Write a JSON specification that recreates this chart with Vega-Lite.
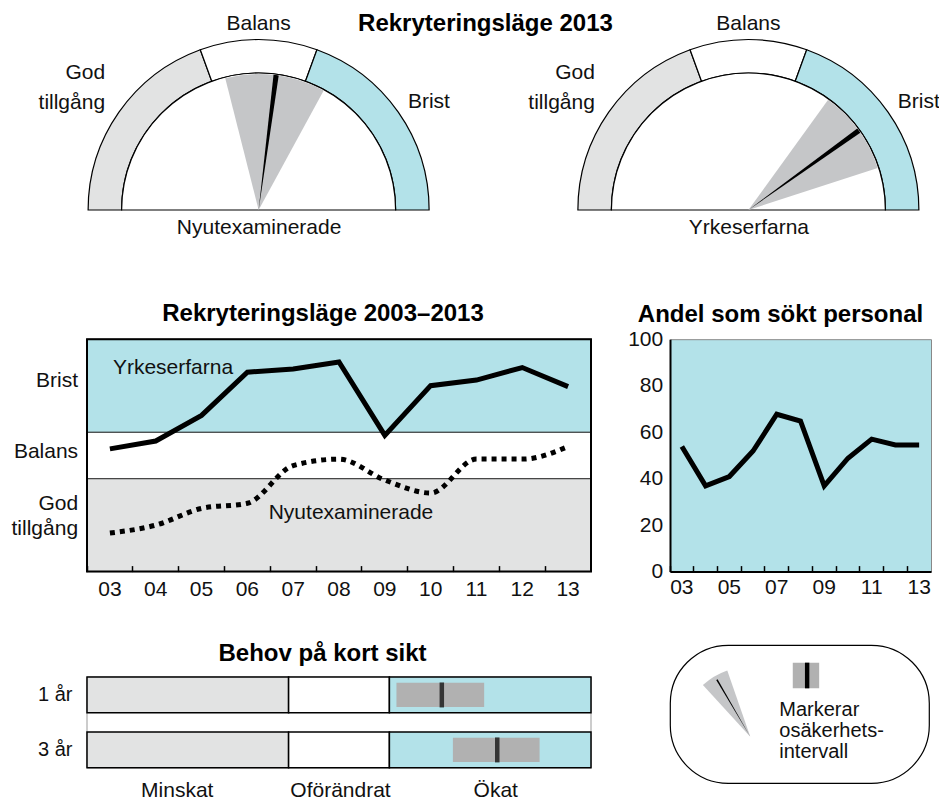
{
  "$schema": "https://vega.github.io/schema/vega-lite/v6.json",
  "background": "white",
  "padding": {"left": 11, "top": 11, "right": 0, "bottom": 0},
  "config": {
    "font": "Liberation Sans",
    "view": {"stroke": null},
    "axis": {"labelFont": "Liberation Sans", "labelFontSize": 21, "labelColor": "#111", "grid": false, "labelOverlap": false, "labelFlush": false, "labelAngle": 0},
    "title": {"font": "Liberation Sans", "fontSize": 24, "fontWeight": "bold", "color": "#000", "anchor": "middle", "frame": "group", "baseline": "alphabetic"},
    "text": {"font": "Liberation Sans", "fontSize": 21, "color": "#111"}
  },
  "datasets": {
    "gauges": [
      {"gauge": "Nyutexaminerade", "value": 7.4, "low": -14.2, "high": 28.6},
      {"gauge": "Yrkeserfarna", "value": 54.3, "low": 35.9, "high": 72}
    ],
    "segments": [
      {"gauge": "Nyutexaminerade", "cat": "God tillgång", "start": -90, "end": -20},
      {"gauge": "Nyutexaminerade", "cat": "Balans", "start": -20, "end": 20},
      {"gauge": "Nyutexaminerade", "cat": "Brist", "start": 20, "end": 90},
      {"gauge": "Yrkeserfarna", "cat": "God tillgång", "start": -90, "end": -20},
      {"gauge": "Yrkeserfarna", "cat": "Balans", "start": -20, "end": 20},
      {"gauge": "Yrkeserfarna", "cat": "Brist", "start": 20, "end": 90}
    ],
    "bands": [
      {"cat": "God tillgång", "lo": 0, "hi": 2},
      {"cat": "Balans", "lo": 2, "hi": 3},
      {"cat": "Brist", "lo": 3, "hi": 5}
    ],
    "rekrytering": [
      {"year": "03", "grupp": "Yrkeserfarna", "value": 2.64},
      {"year": "04", "grupp": "Yrkeserfarna", "value": 2.81},
      {"year": "05", "grupp": "Yrkeserfarna", "value": 3.36},
      {"year": "06", "grupp": "Yrkeserfarna", "value": 4.29},
      {"year": "07", "grupp": "Yrkeserfarna", "value": 4.36},
      {"year": "08", "grupp": "Yrkeserfarna", "value": 4.51},
      {"year": "09", "grupp": "Yrkeserfarna", "value": 2.93},
      {"year": "10", "grupp": "Yrkeserfarna", "value": 4.00},
      {"year": "11", "grupp": "Yrkeserfarna", "value": 4.12},
      {"year": "12", "grupp": "Yrkeserfarna", "value": 4.39},
      {"year": "13", "grupp": "Yrkeserfarna", "value": 3.98},
      {"year": "03", "grupp": "Nyutexaminerade", "value": 0.83},
      {"year": "04", "grupp": "Nyutexaminerade", "value": 1.00},
      {"year": "05", "grupp": "Nyutexaminerade", "value": 1.36},
      {"year": "06", "grupp": "Nyutexaminerade", "value": 1.47},
      {"year": "07", "grupp": "Nyutexaminerade", "value": 2.28},
      {"year": "08", "grupp": "Nyutexaminerade", "value": 2.42},
      {"year": "09", "grupp": "Nyutexaminerade", "value": 1.97},
      {"year": "10", "grupp": "Nyutexaminerade", "value": 1.69},
      {"year": "11", "grupp": "Nyutexaminerade", "value": 2.42},
      {"year": "12", "grupp": "Nyutexaminerade", "value": 2.42},
      {"year": "13", "grupp": "Nyutexaminerade", "value": 2.69}
    ],
    "andel": [
      {"year": "03", "value": 53.8},
      {"year": "04", "value": 36.9},
      {"year": "05", "value": 40.9},
      {"year": "06", "value": 51.9},
      {"year": "07", "value": 67.7},
      {"year": "08", "value": 64.8},
      {"year": "09", "value": 36.9},
      {"year": "10", "value": 48.8},
      {"year": "11", "value": 57.0},
      {"year": "12", "value": 54.5},
      {"year": "13", "value": 54.5}
    ],
    "behovSeg": [
      {"row": "1 år", "cat": "Minskat", "start": 0, "end": 2},
      {"row": "1 år", "cat": "Oförändrat", "start": 2, "end": 3},
      {"row": "1 år", "cat": "Ökat", "start": 3, "end": 5},
      {"row": "3 år", "cat": "Minskat", "start": 0, "end": 2},
      {"row": "3 år", "cat": "Oförändrat", "start": 2, "end": 3},
      {"row": "3 år", "cat": "Ökat", "start": 3, "end": 5}
    ],
    "behov": [
      {"row": "1 år", "lo": 3.07, "hi": 3.94, "mid": 3.52},
      {"row": "3 år", "lo": 3.63, "hi": 4.49, "mid": 4.07}
    ]
  },
  "spacing": 63.2,
  "vconcat": [
    {
      "width": 833,
      "height": 171,
      "title": {"text": "Rekryteringsläge 2013", "dx": -18, "offset": -22.5},
      "layer": [
        {
          "data": {"name": "segments"},
          "mark": {"type": "arc", "radius": 170.5, "radius2": 137, "stroke": "#000", "strokeWidth": 1.2, "y": "height"},
          "encoding": {
            "x": {"field": "gauge", "type": "nominal", "scale": {"type": "point", "domain": ["Nyutexaminerade", "Yrkeserfarna"], "padding": 0.3504}, "axis": {"title": null, "domain": false, "ticks": false, "labelPadding": 6.3, "labelBaseline": "top"}},
            "theta": {"field": "start", "type": "quantitative", "scale": {"domain": [-90, 90], "range": [-1.5707963, 1.5707963], "zero": false, "nice": false}},
            "theta2": {"field": "end"},
            "color": {"field": "cat", "type": "nominal", "legend": null, "scale": {"domain": ["God tillgång", "Balans", "Brist", "Minskat", "Oförändrat", "Ökat"], "range": ["#e2e3e3", "#ffffff", "#b3e2e9", "#e2e3e3", "#ffffff", "#b3e2e9"]}}
          }
        },
        {
          "data": {"name": "gauges"},
          "mark": {"type": "arc", "radius": 137, "fill": "#ffffff", "stroke": "#000", "strokeWidth": 1.2, "y": "height"},
          "encoding": {
            "x": {"field": "gauge", "type": "nominal"},
            "theta": {"datum": -90, "type": "quantitative", "scale": {"domain": [-90, 90], "range": [-1.5707963, 1.5707963], "zero": false, "nice": false}},
            "theta2": {"datum": 90}
          }
        },
        {
          "data": {"name": "gauges"},
          "mark": {"type": "arc", "radius": 136, "fill": "#c5c6c8", "y": "height"},
          "encoding": {
            "x": {"field": "gauge", "type": "nominal"},
            "theta": {"field": "low", "type": "quantitative", "scale": {"domain": [-90, 90], "range": [-1.5707963, 1.5707963], "zero": false, "nice": false}},
            "theta2": {"field": "high"}
          }
        },
        {
          "data": {"name": "gauges"},
          "mark": {"type": "arc", "radius": 136, "fill": "#000", "y": "height", "thetaOffset": -0.0192, "theta2Offset": 0.0192},
          "encoding": {
            "x": {"field": "gauge", "type": "nominal"},
            "theta": {"field": "value", "type": "quantitative", "scale": {"domain": [-90, 90], "range": [-1.5707963, 1.5707963], "zero": false, "nice": false}},
            "theta2": {"field": "value"}
          }
        },
        {
          "data": {"name": "gauges"},
          "mark": {"type": "text", "text": "Balans", "radius": 185.8, "align": "center", "baseline": "middle", "y": "height"},
          "encoding": {
            "x": {"field": "gauge", "type": "nominal"},
            "theta": {"datum": 0, "type": "quantitative"}
          }
        },
        {
          "data": {"name": "gauges"},
          "mark": {"type": "text", "text": ["God", "tillgång"], "radius": 187.4, "align": "right", "baseline": "top", "dy": -41, "lineHeight": 30, "y": "height"},
          "encoding": {
            "x": {"field": "gauge", "type": "nominal"},
            "theta": {"datum": -55, "type": "quantitative"}
          }
        },
        {
          "data": {"name": "gauges"},
          "mark": {"type": "text", "text": "Brist", "radius": 182.3, "align": "left", "baseline": "middle", "dy": -3, "y": "height"},
          "encoding": {
            "x": {"field": "gauge", "type": "nominal"},
            "theta": {"datum": 55, "type": "quantitative"}
          }
        }
      ]
    },
    {
      "spacing": 35,
      "hconcat": [
        {
          "spacing": 40.9,
          "vconcat": [
            {
              "width": 504,
              "height": 232.4,
              "title": {"text": "Rekryteringsläge 2003–2013", "dx": -16, "offset": 12.6},
              "layer": [
                {
                  "data": {"name": "bands"},
                  "mark": {"type": "rect", "stroke": "#333", "strokeWidth": 1},
                  "encoding": {
                    "y": {"field": "lo", "type": "quantitative", "scale": {"domain": [0, 5], "nice": false}, "axis": {"title": null, "values": [4.11, 2.59, 1.47], "labelExpr": "datum.value > 3 ? 'Brist' : datum.value > 2 ? 'Balans' : ['God', 'tillgång']", "ticks": false, "domain": false, "labelPadding": 9.4, "labelLineHeight": 25}},
                    "y2": {"field": "hi"},
                    "color": {"field": "cat", "type": "nominal", "legend": null, "scale": {"domain": ["God tillgång", "Balans", "Brist", "Minskat", "Oförändrat", "Ökat"], "range": ["#e2e3e3", "#ffffff", "#b3e2e9", "#e2e3e3", "#ffffff", "#b3e2e9"]}}
                  }
                },
                {
                  "data": {"name": "rekrytering"},
                  "transform": [{"filter": "datum.grupp === 'Yrkeserfarna'"}],
                  "mark": {"type": "line", "color": "#000", "strokeWidth": 5},
                  "encoding": {
                    "x": {"field": "year", "type": "ordinal", "bandPosition": 0.5, "scale": {"type": "band", "paddingInner": 0, "paddingOuter": 0}, "axis": {"title": null, "bandPosition": 0, "ticks": true, "tickSize": -6, "tickColor": "#000", "tickWidth": 1.5, "domain": false, "labelPadding": 12.7, "zindex": 1}},
                    "y": {"field": "value", "type": "quantitative"}
                  }
                },
                {
                  "data": {"name": "rekrytering"},
                  "transform": [{"filter": "datum.grupp === 'Nyutexaminerade'"}],
                  "mark": {"type": "line", "color": "#000", "strokeWidth": 5, "strokeDash": [5, 5], "interpolate": "monotone"},
                  "encoding": {
                    "x": {"field": "year", "type": "ordinal", "bandPosition": 0.5},
                    "y": {"field": "value", "type": "quantitative"}
                  }
                },
                {
                  "data": {"values": [{}]},
                  "mark": {"type": "rect", "fill": "transparent", "stroke": "#000", "strokeWidth": 2},
                  "encoding": {
                    "y": {"datum": 0, "type": "quantitative"},
                    "y2": {"datum": 5}
                  }
                },
                {
                  "data": {"values": [{"label": "Yrkeserfarna", "year": "03", "value": 4.39}]},
                  "mark": {"type": "text", "align": "left", "baseline": "middle", "dx": 3},
                  "encoding": {
                    "x": {"field": "year", "type": "ordinal", "bandPosition": 0.5},
                    "y": {"field": "value", "type": "quantitative"},
                    "text": {"field": "label"}
                  }
                },
                {
                  "data": {"values": [{"label": "Nyutexaminerade", "year": "08", "value": 1.26}]},
                  "mark": {"type": "text", "align": "center", "baseline": "middle", "dx": 12},
                  "encoding": {
                    "x": {"field": "year", "type": "ordinal", "bandPosition": 0.5},
                    "y": {"field": "value", "type": "quantitative"},
                    "text": {"field": "label"}
                  }
                }
              ]
            },
            {
              "width": 504,
              "height": 90.7,
              "title": {"text": "Behov på kort sikt", "dx": -16.5, "offset": 10.8},
              "layer": [
                {
                  "data": {"values": [{}]},
                  "mark": {"type": "rect", "fill": "#ffffff", "stroke": "#999", "strokeWidth": 1},
                  "encoding": {
                    "x": {"datum": 0, "type": "quantitative", "scale": {"domain": [0, 5], "nice": false, "zero": false}, "axis": {"title": null, "values": [0.89, 2.51, 4.05], "labelExpr": "datum.value < 2 ? 'Minskat' : datum.value < 3 ? 'Oförändrat' : 'Ökat'", "ticks": false, "domain": false, "labelPadding": 11.5, "labelBaseline": "top"}},
                    "x2": {"datum": 5}
                  }
                },
                {
                  "data": {"name": "behovSeg"},
                  "mark": {"type": "rect", "stroke": "#000", "strokeWidth": 1.5},
                  "encoding": {
                    "x": {"field": "start", "type": "quantitative"},
                    "x2": {"field": "end"},
                    "y": {"field": "row", "type": "nominal", "scale": {"type": "band", "paddingInner": 0.35, "paddingOuter": 0}, "axis": {"title": null, "ticks": false, "domain": false, "labelPadding": 15, "labelFontSize": 20}},
                    "color": {"field": "cat", "type": "nominal", "legend": null, "scale": {"domain": ["God tillgång", "Balans", "Brist", "Minskat", "Oförändrat", "Ökat"], "range": ["#e2e3e3", "#ffffff", "#b3e2e9", "#e2e3e3", "#ffffff", "#b3e2e9"]}}
                  }
                },
                {
                  "data": {"name": "behov"},
                  "mark": {"type": "bar", "color": "#b1b1b1", "height": {"band": 0.68}},
                  "encoding": {
                    "x": {"field": "lo", "type": "quantitative"},
                    "x2": {"field": "hi"},
                    "y": {"field": "row", "type": "nominal"}
                  }
                },
                {
                  "data": {"name": "behov"},
                  "mark": {"type": "tick", "color": "#000", "thickness": 4.5, "size": 25},
                  "encoding": {
                    "x": {"field": "mid", "type": "quantitative"},
                    "y": {"field": "row", "type": "nominal"}
                  }
                }
              ]
            }
          ]
        },
        {
          "spacing": 45.8,
          "vconcat": [
            {
              "width": 261,
              "height": 232.4,
              "view": {"fill": "#b3e2e9", "stroke": "#888", "strokeWidth": 1},
              "title": {"text": "Andel som sökt personal", "dx": -20, "offset": 1.5},
              "data": {"name": "andel"},
              "mark": {"type": "line", "color": "#000", "strokeWidth": 5},
              "encoding": {
                "x": {"field": "year", "type": "ordinal", "bandPosition": 0.5, "scale": {"type": "band", "paddingInner": 0, "paddingOuter": 0}, "axis": {"title": null, "bandPosition": 0, "ticks": true, "tickSize": -6, "tickColor": "#000", "tickWidth": 1.5, "domain": true, "domainColor": "#000", "domainWidth": 2, "labelPadding": 11, "labelExpr": "parseInt(datum.value) % 2 == 1 ? datum.value : ''", "zindex": 1}},
                "y": {"field": "value", "type": "quantitative", "scale": {"domain": [0, 100], "nice": false}, "axis": {"title": null, "values": [0, 20, 40, 60, 80, 100], "ticks": false, "domain": true, "domainColor": "#000", "domainWidth": 2, "labelPadding": 7.3, "zindex": 1}}
              }
            },
            {
              "width": 259,
              "height": 138,
              "view": {"fill": "#ffffff", "stroke": "#000", "strokeWidth": 1.2, "cornerRadius": 58},
              "data": {"values": [{}]},
              "layer": [
                {
                  "mark": {"type": "arc", "radius": 70, "fill": "#c5c6c8"},
                  "encoding": {
                    "x": {"datum": 31.0, "type": "quantitative", "scale": {"domain": [0, 100], "nice": false}, "axis": null},
                    "y": {"datum": 33.6, "type": "quantitative", "scale": {"domain": [0, 100], "nice": false}, "axis": null},
                    "theta": {"datum": -42.6, "type": "quantitative", "scale": {"domain": [-90, 90], "range": [-1.5707963, 1.5707963], "zero": false, "nice": false}},
                    "theta2": {"datum": -19.2}
                  }
                },
                {
                  "mark": {"type": "arc", "radius": 66, "fill": "#000"},
                  "encoding": {
                    "x": {"datum": 31.0, "type": "quantitative"},
                    "y": {"datum": 33.6, "type": "quantitative"},
                    "theta": {"datum": -31.1, "type": "quantitative"},
                    "theta2": {"datum": -29.7}
                  }
                },
                {
                  "mark": {"type": "rect", "fill": "#b1b1b1"},
                  "encoding": {
                    "x": {"datum": 47.4, "type": "quantitative"},
                    "x2": {"datum": 57.6},
                    "y": {"datum": 87.2, "type": "quantitative"},
                    "y2": {"datum": 68.6}
                  }
                },
                {
                  "mark": {"type": "rect", "fill": "#000"},
                  "encoding": {
                    "x": {"datum": 52.1, "type": "quantitative"},
                    "x2": {"datum": 53.8},
                    "y": {"datum": 87.2, "type": "quantitative"},
                    "y2": {"datum": 68.6}
                  }
                },
                {
                  "mark": {"type": "text", "text": ["Markerar", "osäkerhets-", "intervall"], "align": "left", "baseline": "top", "fontSize": 20, "lineHeight": 21},
                  "encoding": {
                    "x": {"datum": 42.2, "type": "quantitative"},
                    "y": {"datum": 60.5, "type": "quantitative"}
                  }
                }
              ]
            }
          ]
        }
      ]
    }
  ]
}
